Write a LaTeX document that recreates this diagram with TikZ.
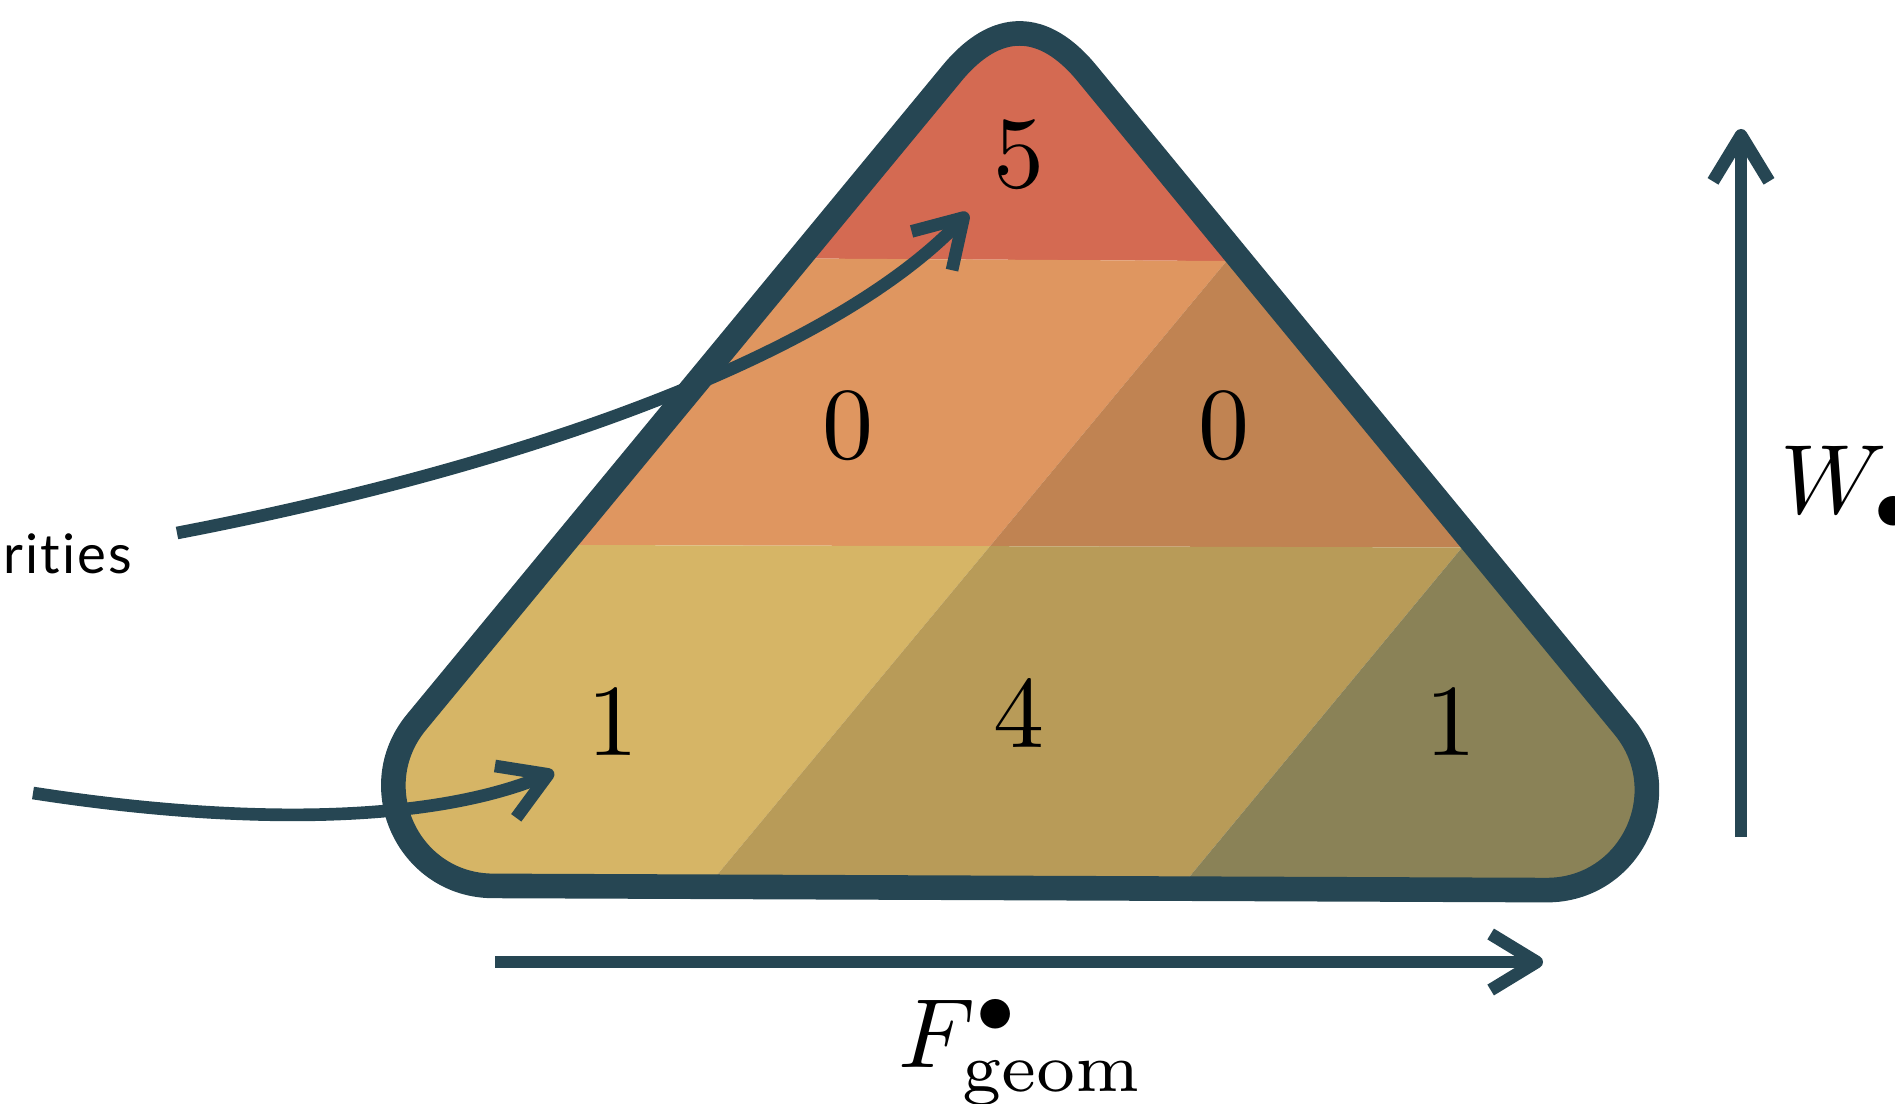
\documentclass[tikz,border=0pt]{standalone}
\usepackage{amsmath,amssymb}
\usepackage{graphicx}
\usepackage{fontspec}
\setsansfont{Lato}[Ligatures=NoCommon, LetterSpace=4]
\usepackage{xcolor}
\usepackage{tikz}
\usetikzlibrary{arrows.meta}

\definecolor{pyrline}{HTML}{264653}
\definecolor{cellred}{HTML}{D46A52}
\definecolor{cellorange}{HTML}{DF9660}
\definecolor{cellorangedk}{HTML}{C08352}
\definecolor{cellyellow}{HTML}{D6B566}
\definecolor{cellyellowdk}{HTML}{B89B58}
\definecolor{cellolive}{HTML}{8A8257}

% rounded triangle outline (pixel units, y down)
\newcommand{\pyrpath}{(951.9,73.4) -- (416.4,722.2) .. controls (362.7,787.3) and (408.7,885.6) .. (493.1,885.9) -- (1546.3,890.1) .. controls (1631.0,890.4) and (1677.7,792.1) .. (1623.9,726.7) -- (1087.1,73.5) .. controls (1043.2,20.1) and (995.9,20.1) .. (951.9,73.4) -- cycle}

\begin{document}
\begin{tikzpicture}[
        x=0.01cm, y=-0.01cm,
        cell/.style={anchor=base, inner sep=0pt},
        edge/.style={draw=pyrline, line width=7pt, line join=round},
        arr/.style={draw=pyrline, line width=3.6pt, -{Straight Barb[length=4.6mm, width=5.6mm, line join=round]}},
        lbl/.style={inner sep=0pt},
    ]
    \useasboundingbox (0,0) rectangle (1895,1104);

    % Cell fills
    \begin{scope}
        \clip \pyrpath;
        \fill[cellred] (0,-100) -- (1895,-100) -- (1895,265) -- (0,253.8) -- cycle;
        \fill[cellorange] (0,253.8) -- (1226.6,261) -- (990,546.2) -- (0,543.4) -- cycle;
        \fill[cellorangedk] (1226.6,261) -- (1895,265) -- (1895,548.7) -- (990,546.2) -- cycle;
        \fill[cellyellow] (0,543.4) -- (990,546.2) -- (613.2,1000) -- (0,1000) -- cycle;
        \fill[cellyellowdk] (990,546.2) -- (1462,547.5) -- (1087.4,1000) -- (613.2,1000) -- cycle;
        \fill[cellolive] (1462,547.5) -- (1895,548.7) -- (1895,1000) -- (1087.4,1000) -- cycle;
    \end{scope}
    \draw[edge] \pyrpath;

    % Cell values
    \node[cell] (n5) at (1019,188) {\scalebox{2.9}{5}};
    \node[cell] (n0a) at (848,459) {\scalebox{2.9}{0}};
    \node[cell] (n0b) at (1224,459) {\scalebox{2.9}{0}};
    \node[cell] (n1a) at (613,755) {\scalebox{2.9}{1}};
    \node[cell] (n4) at (1019,747) {\scalebox{2.9}{4}};
    \node[cell] (n1b) at (1451,755) {\scalebox{2.9}{1}};

    % Axes
    \coordinate (fs) at (495,962);
    \coordinate (fe) at (1543,962);
    \draw[arr] (fs) -- (fe);
    \node[lbl, anchor=base] (flbl) at (1022,1067) {\scalebox{2.8}{$F^{\bullet}_{\mathrm{geom}}$}};

    \coordinate (ws) at (1741,837);
    \coordinate (we) at (1741,129);
    \draw[arr] (ws) -- (we);
    \node[lbl, anchor=base west] (wlbl) at (1780,514) {\scalebox{2.8}{$W_{\bullet}$}};

    % Pointers into the cells
    \node[font=\sffamily\fontsize{15.5}{18}\selectfont, anchor=base east, inner sep=0pt] (mult) at (133,574) {rities};
    \coordinate (p1s) at (33,793);
    \coordinate (p1e) at (554,772);
    \draw[arr] (p1s) .. controls (233,824) and (425,825) .. (p1e);
    \coordinate (p2s) at (177,533);
    \coordinate (p2e) at (968,213);
    \draw[arr] (p2s) .. controls (521,467) and (830,357) .. (p2e);

\end{tikzpicture}
\end{document}
